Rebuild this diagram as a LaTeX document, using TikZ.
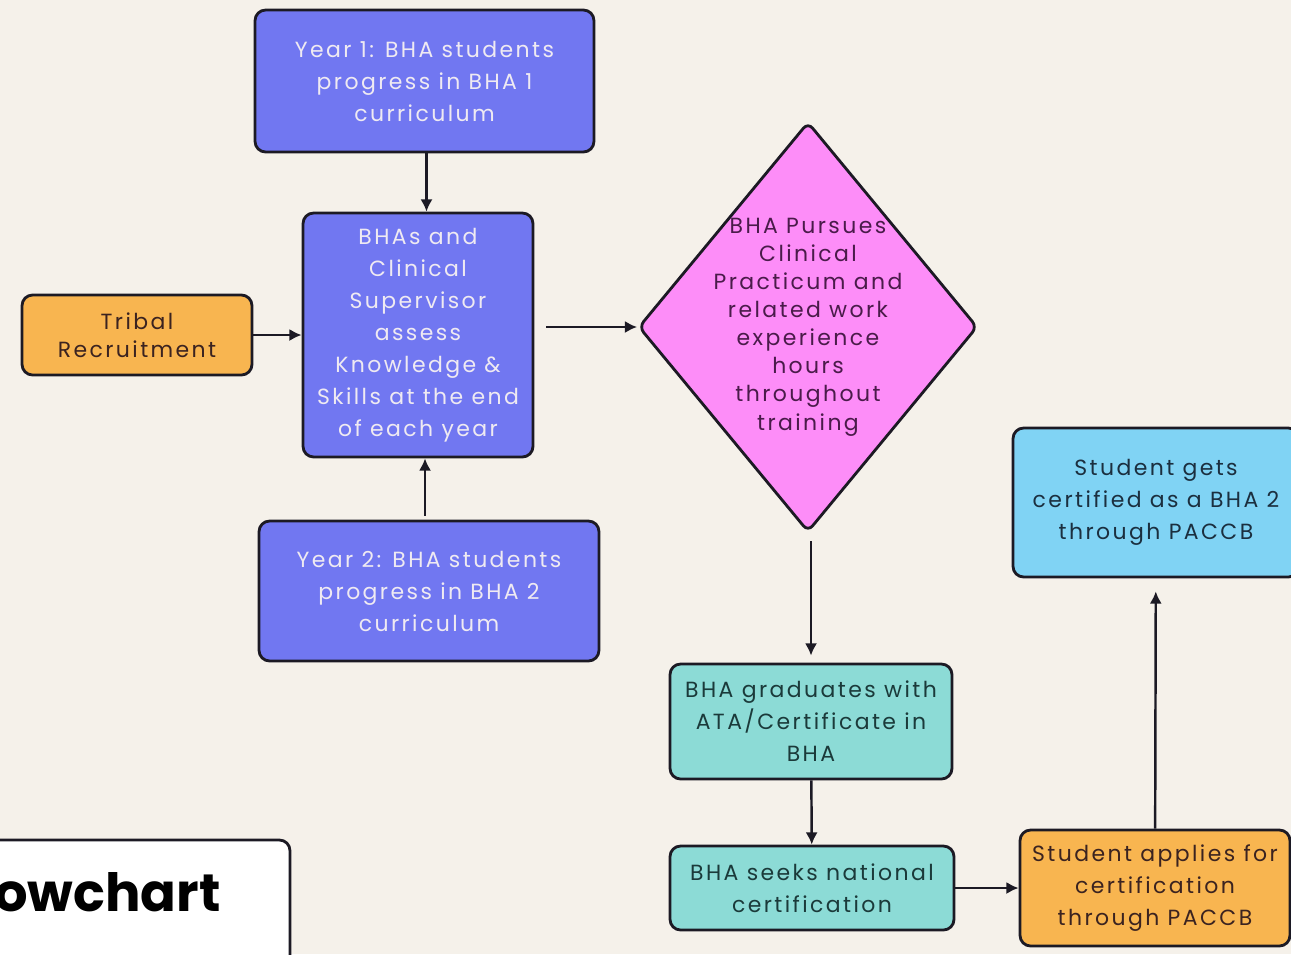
\documentclass[tikz,border=0pt]{standalone}
\usepackage{fontspec}
\setmainfont{Poppins}[LetterSpace=11]
\newfontfamily\headfont{Poppins}
\usetikzlibrary{arrows.meta, positioning, shapes.geometric}

\definecolor{paper}{HTML}{F5F1EA}
\definecolor{periwinkle}{HTML}{7177F1}
\definecolor{amber}{HTML}{F8B550}
\definecolor{orchid}{HTML}{FD8DF8}
\definecolor{aqua}{HTML}{8CDBD6}
\definecolor{sky}{HTML}{80D3F4}
\definecolor{edge}{HTML}{1C1A24}
\definecolor{inkbrown}{HTML}{3B2320}
\definecolor{inkplum}{HTML}{4A1B4A}
\definecolor{inkteal}{HTML}{1B3A3A}
\definecolor{inknavy}{HTML}{1B2F3F}
\definecolor{inklight}{HTML}{EFEAF2}

\begin{document}
\begin{tikzpicture}[
    x=0.02cm, y=-0.02cm,
    box/.style={draw=edge, line width=1.6pt, rounded corners=6pt, align=center, inner sep=0pt,
        font=\fontsize{12.5}{18.2}\selectfont},
    yearbox/.style={box, fill=periwinkle, text=inklight},
    recruitbox/.style={box, fill=amber, text=inkbrown},
    gradbox/.style={box, fill=aqua, text=inkteal},
    certbox/.style={box, fill=sky, text=inknavy},
    decision/.style={diamond, draw=edge, line width=1.6pt, rounded corners=4pt, fill=orchid,
        minimum width=6.78cm, minimum height=8.2cm, inner sep=0pt},
    tight/.style={font=\fontsize{12.5}{16}\selectfont},
    arrow/.style={-{Latex[length=7pt, width=7pt]}, line width=1.4pt, draw=edge}
]
\useasboundingbox (0,0) rectangle (1291,954);
\fill[paper] (0,0) rectangle (1291,954);
\clip (0,0) rectangle (1291,954);

\node[yearbox, minimum width=6.78cm, minimum height=2.84cm] (yearone) at (424.5,81)
    {Year 1: BHA students\\progress in BHA 1\\curriculum};
\node[yearbox, minimum width=4.6cm, minimum height=4.88cm] (assess) at (418,335)
    {BHAs and\\Clinical\\Supervisor\\assess\\Knowledge \&\\Skills at the end\\of each year};
\node[recruitbox, tight, minimum width=4.6cm, minimum height=1.6cm] (tribal) at (137,335)
    {Tribal\\Recruitment};
\node[yearbox, minimum width=6.8cm, minimum height=2.8cm] (yeartwo) at (429,591)
    {Year 2: BHA students\\progress in BHA 2\\curriculum};
\node[decision] (practicum) at (808,327) {};
\node[tight, align=center, text=inkplum, inner sep=0pt] (practicumtext) at (practicum.center)
    {BHA Pursues\\Clinical\\Practicum and\\related work\\experience\\hours\\throughout\\training};
\node[gradbox, minimum width=5.64cm, minimum height=2.3cm] (graduate) at (811,721.5)
    {BHA graduates with\\ATA/Certificate in\\BHA};
\node[gradbox, minimum width=5.68cm, minimum height=1.68cm] (seek) at (812,888)
    {BHA seeks national\\certification};
\node[recruitbox, minimum width=5.4cm, minimum height=2.32cm] (apply) at (1155,888)
    {Student applies for\\certification\\through PACCB};
\node[certbox, minimum width=5.72cm, minimum height=2.98cm] (certified) at (1156,502.5)
    {Student gets\\certified as a BHA 2\\through PACCB};

\node[draw=edge, line width=1.6pt, rounded corners=6pt, fill=white,
    minimum width=6.4cm, minimum height=2.8cm] (frame) at (130,910) {};
\node[anchor=base east, inner sep=0pt, font=\headfont\bfseries\fontsize{30}{36}\selectfont] (title)
    at (221,911) {Flowchart};

\draw[arrow] (yearone.south) ++(2,0) coordinate (yearoneout) -- (yearoneout |- assess.north);
\draw[arrow] (tribal) -- (assess);
\draw[arrow] (yeartwo.north) ++(-4,-4) coordinate (yeartwoout) -- (yeartwoout |- assess.south);
\draw[arrow, shorten <=12*0.02cm] (assess.east |- practicum.west) -- (practicum.west);
\draw[arrow, shorten <=8*0.02cm, shorten >=7*0.02cm] (practicum.south) ++(3,0) coordinate (practicumout) -- (practicumout |- graduate.north);
\draw[arrow] (graduate) -- (seek);
\draw[arrow] (seek) -- (apply);
\draw[arrow, shorten >=13*0.02cm] (apply) -- (certified);
\end{tikzpicture}
\end{document}
